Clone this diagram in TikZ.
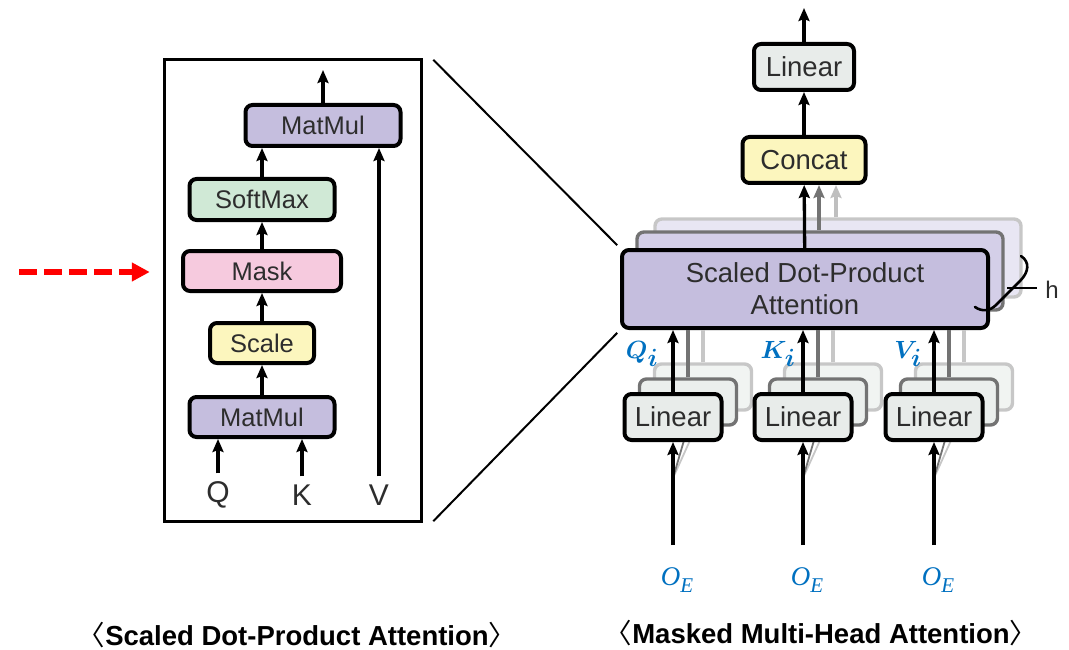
\documentclass[tikz,border=0pt]{standalone}
\usepackage{fontspec}
\setmainfont{Liberation Sans}
\newfontfamily\cjk{Noto Sans CJK KR}
\newfontfamily\serifit{Liberation Serif}
\usepackage{bm}
\usetikzlibrary{arrows.meta,calc}
\definecolor{purp}{RGB}{197,190,222}
\definecolor{purpB}{RGB}{212,207,232}
\definecolor{purpC}{RGB}{232,230,243}
\definecolor{grn}{RGB}{208,233,214}
\definecolor{pnk}{RGB}{246,202,222}
\definecolor{ylw}{RGB}{252,246,190}
\definecolor{lgr}{RGB}{232,236,234}
\definecolor{txt}{RGB}{45,45,45}
\definecolor{blu}{RGB}{0,112,192}
\newcommand{\oelab}{{\serifit\itshape\fontsize{27}{30}\selectfont O\raisebox{-7pt}{\fontsize{21}{24}\selectfont E}}}
\tikzset{
  blk/.style={draw=black, line width=4pt, rounded corners=7pt, inner sep=0pt, text=txt, align=center},
  shB/.style={draw=black!55, line width=3.4pt, rounded corners=7pt, inner sep=0pt},
  shC/.style={draw=black!22, line width=3.4pt, rounded corners=7pt, inner sep=0pt},
  fsL/.style={font=\fontsize{25.5}{28}\selectfont},
  fsR/.style={font=\fontsize{27.5}{32}\selectfont},
  fsQ/.style={font=\fontsize{30}{32}\selectfont, inner sep=0pt},
  arr/.style={line width=3.3pt, -{Stealth[length=13pt,width=11pt,inset=2pt]}},
  arrB/.style={line width=3.3pt, draw=black!55, -{Stealth[length=13pt,width=11pt,inset=2pt]}},
  arrC/.style={line width=3.3pt, draw=black!25, -{Stealth[length=13pt,width=11pt,inset=2pt]}},
  lnB/.style={line width=3.3pt, draw=black!55},
  lnC/.style={line width=3.3pt, draw=black!22},
  zoomline/.style={line width=2pt, draw=black},
  redarrow/.style={line width=6pt, draw=red, dash pattern=on 18pt off 7pt, -{Triangle[length=18pt,width=18pt]}},
  bluelab/.style={text=blu, inner sep=0pt},
  caption/.style={font=\bfseries\fontsize{27.5}{30}\selectfont, inner sep=0pt}
}
\begin{document}
\begin{tikzpicture}[x=1pt,y=-1pt]
\useasboundingbox (0,0) rectangle (1069,650);

% ---------- left: scaled dot-product attention ----------
\node[draw=black, line width=3.5pt, minimum width=257pt, minimum height=462pt, inner sep=0pt] (zoombox) at (293,290.5) {};

\node[blk, fill=purp, minimum width=155pt, minimum height=41pt, fsL] (mm2) at (323,125.5) {MatMul};
\node[blk, fill=grn, minimum width=145pt, minimum height=41pt, fsL] (smax) at (262,199.5) {SoftMax};
\node[blk, fill=pnk, minimum width=158pt, minimum height=40pt, fsL] (mask) at (262,271) {Mask};
\node[blk, fill=ylw, minimum width=104pt, minimum height=40pt, fsL] (scale) at (262,343) {Scale};
\node[blk, fill=purp, minimum width=145pt, minimum height=40pt, fsL] (mm1) at (262,417) {MatMul};

\node[fsQ, text=txt] (q) at (218,495) {Q};
\node[fsQ, text=txt] (k) at (302,495) {K};
\node[fsQ, text=txt] (v) at (379,495) {V};

\coordinate (outL) at (323,70);
\draw[arr] (mm1) -- (scale);
\draw[arr] (scale) -- (mask);
\draw[arr] (mask) -- (smax);
\draw[arr] (smax.north) -- (smax.north |- mm2.south);
\draw[arr] (mm2) -- (outL);
\draw[arr, shorten <=8pt] (q.north) -- (q.north |- mm1.south);
\draw[arr, shorten <=8pt] (k.north) -- (k.north |- mm1.south);
\draw[arr, shorten <=8pt] (v.north) -- (v.north |- mm2.south);

% red dashed arrow
\coordinate (redstart) at (19,272);
\draw[redarrow, shorten >=13pt] (redstart) -- (redstart -| zoombox.west);

% ---------- right: multi-head attention ----------
% linear shadows
\foreach \n/\x in {1/673, 2/803, 3/934} {
  \node[shC, fill=lgr!60, minimum width=97pt, minimum height=46pt] (lin\n c) at (\x+30,387) {};
  \node[shB, fill=lgr!85, minimum width=97pt, minimum height=46pt] (lin\n b) at (\x+15,402) {};
}
% sdpa shadows
\node[shC, fill=purpC, minimum width=366pt, minimum height=78pt] (sdpa3) at (838,258) {};
\node[shB, fill=purpB, minimum width=366pt, minimum height=78pt] (sdpa2) at (820,271) {};

\node[blk, fill=purp, minimum width=366pt, minimum height=78pt, fsR] (sdpa) at (805,289) {Scaled Dot-Product\\Attention};

\node[blk, fill=ylw, minimum width=123pt, minimum height=46pt, fsR] (concat) at (804,160) {Concat};
\node[blk, fill=lgr, minimum width=100pt, minimum height=46pt, fsR] (linT) at (804,67) {Linear};
\coordinate (outR) at (804,8);

\coordinate (gx2) at (819,0);
\coordinate (gx3) at (836,0);
\draw[arrC] (sdpa3.north -| gx3) -- (concat.south -| gx3);
\draw[arrB] (sdpa2.north -| gx2) -- (concat.south -| gx2);
\draw[arr] (sdpa) -- (concat);
\draw[arr] (concat) -- (linT);
\draw[arr] (linT) -- (outR);

% inputs
\foreach \n/\x/\lx in {1/673/677, 2/803/807, 3/934/938} {
  \coordinate (in\n) at (\x,545);
  \coordinate (in\n s) at (\x,478);
  \node[bluelab] (oe\n) at (\lx,580) {\oelab};
  \draw[lnC, line width=1.8pt] (in\n s) -- (lin\n c.south);
  \draw[lnB, line width=1.8pt] (in\n s) -- (lin\n b.south);
  \draw[lnC] (lin\n c.north) -- (lin\n c.north |- sdpa.south);
  \draw[lnB] (lin\n b.north) -- (lin\n b.north |- sdpa.south);
}

\node[blk, fill=lgr, minimum width=97pt, minimum height=46pt, fsR] (lin1) at (673,417) {Linear};
\node[blk, fill=lgr, minimum width=97pt, minimum height=46pt, fsR] (lin2) at (803,417) {Linear};
\node[blk, fill=lgr, minimum width=97pt, minimum height=46pt, fsR] (lin3) at (934,417) {Linear};

\foreach \n in {1,2,3} {
  \draw[arr] (in\n) -- (lin\n);
  \draw[arr] (lin\n.north) -- (lin\n.north |- sdpa.south);
}

\node[bluelab, font=\fontsize{33}{35}\selectfont] (qi) at (642,354) {$\bm{Q}_{\bm{i}}$};
\node[bluelab, font=\fontsize{33}{35}\selectfont] (ki) at (778,354) {$\bm{K}_{\bm{i}}$};
\node[bluelab, font=\fontsize{33}{35}\selectfont] (vi) at (908,354) {$\bm{V}_{\bm{i}}$};

% h brace
\draw[line width=2.6pt, line cap=round] (1021,256) .. controls (1030,262) and (1029,272) .. (1020,281) -- (996,305) .. controls (990,311) and (982,312) .. (975,307);
\coordinate (htick) at (1007,288);
\node[font=\fontsize{24}{26}\selectfont, text=txt, inner sep=0pt] (h) at (1052,290) {h};
\draw[line width=2.2pt] (htick) -- ([xshift=-8pt]h.west |- htick);

% zoom lines
\draw[zoomline, shorten >=4pt] ([xshift=10pt,yshift=-2pt]zoombox.north east) -- (sdpa.north west);
\draw[zoomline, shorten >=4pt] ([xshift=10pt,yshift=2pt]zoombox.south east) -- (sdpa.south west);

% captions
\node[caption] (capL) at (297,635) {{\mdseries\cjk 〈}Scaled Dot-Product Attention{\mdseries\cjk 〉}};
\node[caption] (capR) at (821,633) {{\mdseries\cjk 〈}Masked Multi-Head Attention{\mdseries\cjk 〉}};
\end{tikzpicture}
\end{document}
